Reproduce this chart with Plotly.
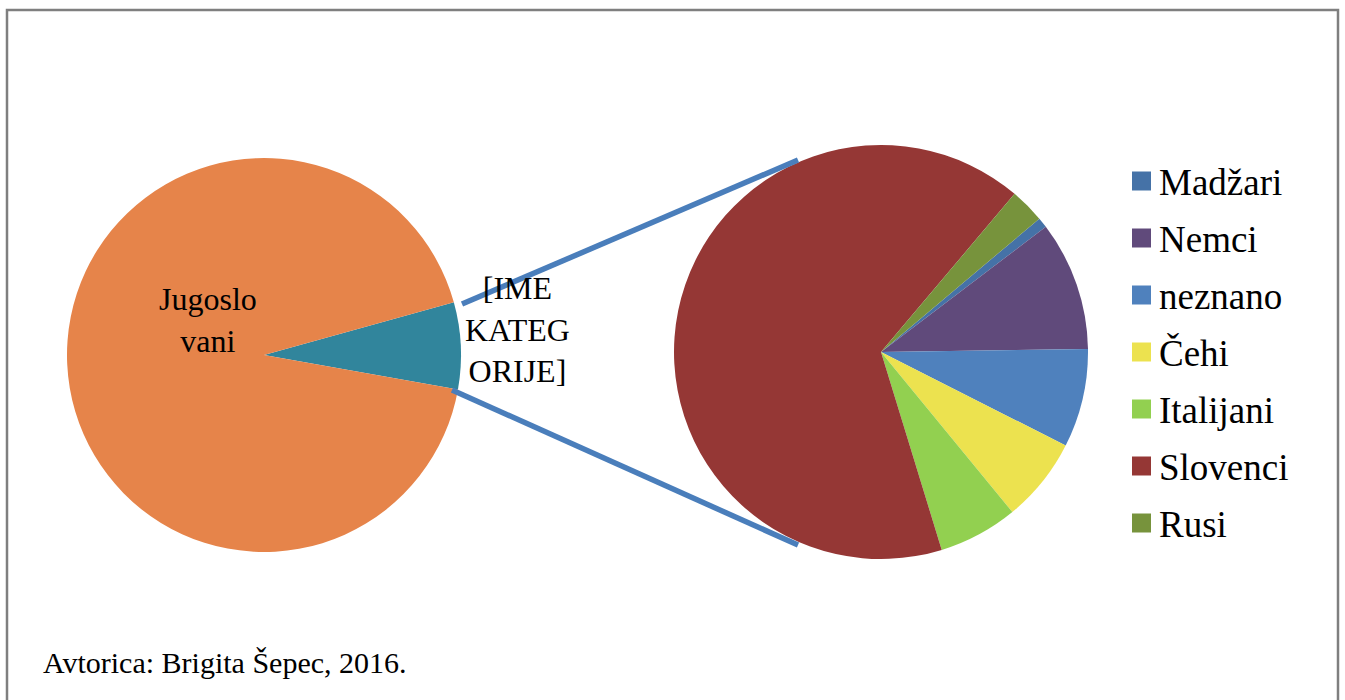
import plotly.graph_objects as go

# ---- data ----
main_labels = ["[IME KATEGORIJE]", "Jugoslovani"]
main_values = [7.1, 92.9]
main_colors = ["#31859c", "#e6844a"]

sub_labels = ["Madžari", "Nemci", "neznano", "Čehi", "Italijani", "Slovenci", "Rusi"]
sub_values = [0.8, 10.1, 7.7, 6.6, 6.2, 65.9, 2.7]
sub_colors = ["#4572a7", "#604a7b", "#4f81bd", "#ece24f", "#92d050", "#953735", "#77933c"]

source_text = "Avtorica: Brigita Šepec, 2016."

W, H = 1345, 700
FONT = "'Liberation Serif', 'Times New Roman', serif"


def px(x):
    return x / W


def py(y):
    return 1 - y / H


fig = go.Figure()

fig.add_trace(go.Pie(
    labels=main_labels, values=main_values, sort=False,
    direction="clockwise", rotation=74.5,
    marker=dict(colors=main_colors, line=dict(width=0)),
    textinfo="none", hoverinfo="label+percent", showlegend=False,
    domain=dict(x=[px(67), px(461)], y=[py(552), py(158)]),
))

fig.add_trace(go.Pie(
    labels=sub_labels, values=sub_values, sort=False,
    direction="clockwise", rotation=49.9,
    marker=dict(colors=sub_colors, line=dict(width=0)),
    textinfo="none", hoverinfo="label+percent", showlegend=False,
    domain=dict(x=[px(674), px(1088)], y=[py(559), py(145)]),
))

shapes = []
# frame
shapes.append(dict(type="rect", xref="paper", yref="paper",
                   x0=px(7), x1=px(1338), y0=py(703), y1=py(10),
                   line=dict(color="#7f7f7f", width=2.5), fillcolor="rgba(0,0,0,0)"))
# connector lines
for (x0, y0, x1, y1) in [(462, 304, 798, 160), (452, 390, 798, 545)]:
    shapes.append(dict(type="line", xref="paper", yref="paper",
                       x0=px(x0), y0=py(y0), x1=px(x1), y1=py(y1),
                       line=dict(color="#4a7ebb", width=5.5)))

annotations = []


def wrap(s, n):
    parts = [s[i:i + n] for i in range(0, len(s), n)]
    return "<br>".join(parts)


# pie labels
annotations.append(dict(x=px(157), y=py(320), xref="paper", yref="paper",
                        text=wrap(main_labels[1], 7), showarrow=False,
                        font=dict(family=FONT, size=32, color="black"), align="center"))
annotations.append(dict(x=px(517), y=py(329), xref="paper", yref="paper",
                        text="[IME<br>KATEG<br>ORIJE]", showarrow=False,
                        font=dict(family=FONT, size=32, color="black"), align="center"))

# manual legend
for i, (lab, col) in enumerate(zip(sub_labels, sub_colors)):
    cy = 181 + i * 57
    shapes.append(dict(type="rect", xref="paper", yref="paper",
                       x0=px(1132), x1=px(1151), y0=py(cy + 9.5), y1=py(cy - 9.5),
                       fillcolor=col, line=dict(width=0)))
    annotations.append(dict(x=px(1157), y=py(cy + 1), xref="paper", yref="paper",
                            text=lab, showarrow=False, xanchor="left", yanchor="middle",
                            font=dict(family=FONT, size=37, color="black")))

annotations.append(dict(x=px(41), y=py(662), xref="paper", yref="paper",
                        text=source_text, showarrow=False, xanchor="left", yanchor="middle",
                        font=dict(family=FONT, size=30, color="black")))

fig.update_layout(
    width=W, height=H,
    margin=dict(l=0, r=0, t=0, b=0),
    paper_bgcolor="white", plot_bgcolor="white",
    shapes=shapes, annotations=annotations,
)

fig.write_html("out.html", config={"displayModeBar": False},
               post_script="document.body.style.margin='0px';document.body.style.overflow='hidden';")
